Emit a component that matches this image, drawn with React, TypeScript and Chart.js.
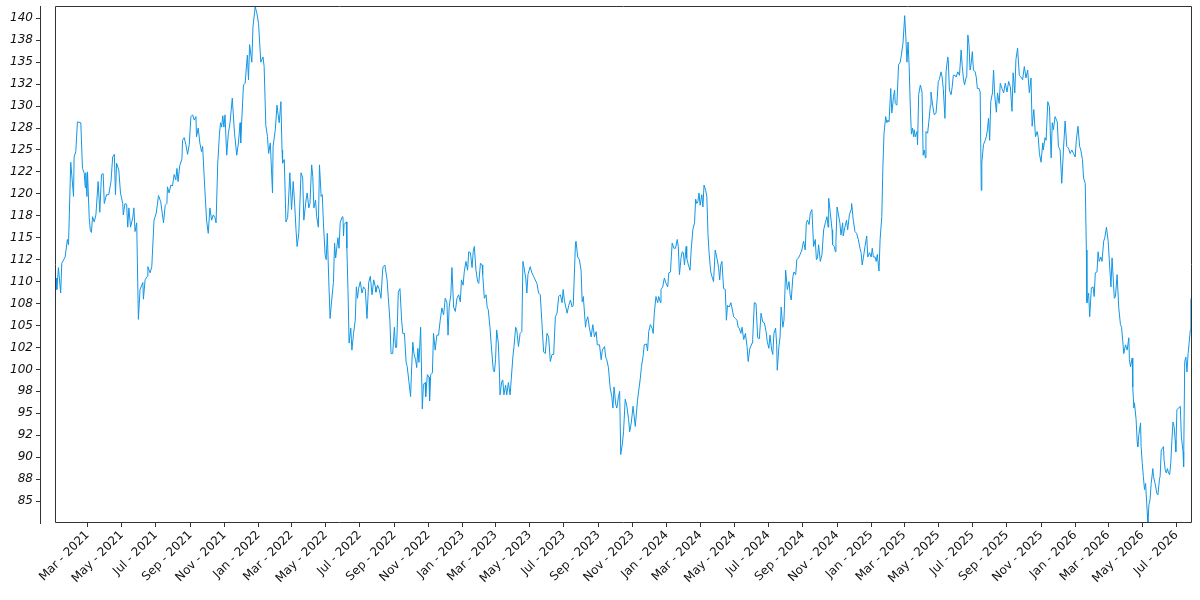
import React, { useEffect, useRef } from "react";
import { Chart, registerables } from "chart.js";

Chart.register(...registerables);

// ---- Data (month-day per year) ----
const D2021 = [
  "01-04","01-05","01-08","01-12","01-14","01-20","01-24","01-26","01-30","02-04",
  "02-05","02-08","02-11","02-17","02-20","02-23","02-25","02-26","02-28","03-01",
  "03-04","03-06","03-08","03-10","03-13","03-16","03-20","03-23","03-26","03-29",
  "03-31","04-04","04-08","04-12","04-15","04-18","04-20","04-22","04-26","04-29",
  "05-03","05-04","05-07","05-10","05-12","05-14","05-17","05-21","05-23","05-25",
  "05-28","05-31","06-03","06-08","06-09","06-12","06-16","06-17","06-21","06-24",
  "06-28","07-02","07-06","07-10","07-15","07-18","07-21","07-22","07-25","07-28",
  "07-31","08-03","08-06","08-08","08-10","08-13","08-17","08-18","08-21","08-24",
  "08-27","08-30","09-02","09-05","09-08","09-11","09-12","09-15","09-18","09-21",
  "09-23","09-26","09-28","09-30","10-03","10-06","10-09","10-12","10-15","10-17",
  "10-20","10-23","10-25","10-27","10-29","10-31","11-02","11-05","11-08","11-11",
  "11-15","11-19","11-23","11-26","11-29","11-30","12-05","12-08","12-12","12-14",
  "12-16","12-20","12-22","12-26","12-29",
];
const V2021 = [
  110.4,109.1,111.6,108.7,112.1,112.8,114.8,114.2,123.6,119.7,
  124.2,124.8,128.2,128.1,122.9,122.4,120.7,122.4,119.7,122.5,
  117.3,115.9,115.6,117.4,116.8,117.6,121.4,117.9,122.2,122.3,
  118.9,119.9,119.9,121.4,124.2,124.5,119.9,123.5,122.7,120.1,
  118.9,117.6,118.9,118.8,116.2,118.4,116.2,117.3,118.4,115.7,
  116.7,105.7,109.1,109.9,108.0,110.2,110.6,111.7,111.0,111.7,
  117.0,117.8,119.8,119.1,116.7,118.7,118.9,120.8,120.1,121.0,
  120.9,122.2,121.6,122.9,121.4,123.2,124.0,126.1,126.4,125.6,
  124.5,125.6,128.8,129.0,128.4,128.8,126.5,127.5,125.8,124.8,
  125.4,121.6,119.3,117.0,115.5,118.4,117.0,117.6,117.3,116.7,
  123.5,126.8,128.1,127.6,128.9,127.6,129.0,124.4,126.9,128.1,
  130.9,126.9,124.4,125.8,128.1,125.8,132.4,132.6,135.8,133.0,
  137.0,135.0,139.0,141.3,140.6,
];

const D2022 = [
  "01-01","01-05","01-09","01-11","01-14","01-17","01-19","01-22","01-26","01-27",
  "01-31","02-03","02-05","02-07","02-10","02-12","02-13","02-16","02-19","02-22",
  "02-23","02-26","03-01","03-04","03-07","03-09","03-11","03-14","03-18","03-21",
  "03-23","03-27","03-29","04-01","04-03","04-06","04-08","04-10","04-13","04-15",
  "04-18","04-20","04-23","04-25","04-27","04-30","05-02","05-04","05-07","05-09",
  "05-13","05-15","05-17","05-19","05-23","05-25","05-27","05-30","06-01","06-02",
  "06-03","06-07","06-08","06-10","06-12","06-15","06-17","06-20","06-23","06-25",
  "06-27","06-29","07-02","07-05","07-08","07-11","07-14","07-17","07-20","07-23",
  "07-26","07-29","07-30","08-02","08-05","08-08","08-11","08-12","08-15","08-19",
  "08-21","08-24","08-26","08-29","09-01","09-03","09-05","09-08","09-11","09-14",
  "09-16","09-19","09-22","09-24","09-27","09-30","10-02","10-04","10-06","10-09",
  "10-11","10-13","10-15","10-18","10-21","10-23","10-26","10-27","10-30","11-02",
  "11-03","11-05","11-08","11-10","11-13","11-16","11-19","11-22","11-25","11-28",
  "12-01","12-04","12-06","12-08","12-11","12-13","12-16","12-19","12-22","12-25",
  "12-28","12-30",
];
const V2022 = [
  139.4,135.0,135.6,134.5,127.8,126.5,124.6,125.8,120.1,125.4,
  127.3,130.1,129.0,128.1,130.5,125.0,123.5,123.9,116.8,117.3,
  118.4,122.4,118.2,121.4,118.4,115.9,114.0,115.5,122.4,121.8,
  117.0,119.3,120.1,118.4,118.9,123.3,122.0,118.4,119.3,117.4,
  116.2,123.3,119.7,119.9,116.8,113.1,112.5,115.5,109.4,105.8,
  108.7,109.9,114.4,112.7,115.0,113.8,116.7,117.3,117.4,115.2,
  116.5,116.8,113.8,109.1,103.0,104.7,102.2,104.1,105.6,109.4,
  108.1,109.2,110.0,108.7,109.4,109.1,105.8,109.9,110.6,108.5,
  110.2,109.4,108.8,109.6,109.1,108.1,111.3,111.7,111.9,110.2,
  108.3,105.6,101.8,101.8,104.8,102.5,102.5,108.8,109.2,105.6,
  104.1,104.1,100.8,100.3,98.6,96.9,100.3,103.1,101.8,101.1,
  100.2,102.4,100.8,104.8,95.5,98.3,98.5,96.9,99.4,99.1,
  96.4,99.4,99.6,104.1,102.2,103.9,103.9,105.6,107.0,106.2,
  108.1,107.6,103.9,107.1,108.5,111.6,107.1,106.6,108.1,108.5,
  107.7,110.2,
];

const D2023 = [
  "01-02","01-04","01-07","01-10","01-12","01-15","01-18","01-20","01-22","01-25",
  "01-28","01-30","02-02","02-05","02-06","02-09","02-12","02-14","02-16","02-19",
  "02-22","02-25","02-27","03-01","03-03","03-06","03-08","03-09","03-12","03-14",
  "03-16","03-19","03-21","03-24","03-27","03-29","04-01","04-03","04-06","04-08",
  "04-11","04-14","04-17","04-19","04-21","04-24","04-26","04-28","05-02","05-05",
  "05-08","05-11","05-14","05-17","05-20","05-23","05-26","05-29","06-01","06-04",
  "06-07","06-10","06-13","06-16","06-19","06-22","06-25","06-28","06-30","07-02",
  "07-05","07-07","07-10","07-13","07-16","07-18","07-22","07-23","07-26","07-29",
  "08-01","08-03","08-05","08-09","08-10","08-13","08-16","08-19","08-22","08-25",
  "08-28","08-30","09-03","09-06","09-08","09-12","09-14","09-16","09-19","09-22",
  "09-25","09-27","09-29","10-02","10-04","10-07","10-09","10-11","10-14","10-16",
  "10-19","10-22","10-25","10-27","10-30","11-02","11-06","11-10","11-13","11-15",
  "11-17","11-20","11-22","11-26","11-28","11-30","12-03","12-06","12-08","12-10",
  "12-13","12-16","12-18","12-21","12-22","12-25","12-28","12-31",
];
const V2023 = [
  109.6,111.1,112.3,111.3,113.4,113.3,111.6,113.4,114.0,111.3,
  110.0,109.8,112.1,111.9,110.8,108.1,108.5,107.1,106.8,104.8,
  102.2,99.9,99.7,101.1,104.5,103.0,99.6,97.1,98.6,98.8,
  97.1,98.2,97.1,98.5,97.1,98.8,101.4,102.6,104.8,104.5,
  102.6,104.1,104.3,112.3,111.6,110.4,108.7,110.8,111.7,111.0,
  110.6,110.2,109.8,108.7,108.5,105.3,102.0,101.8,104.1,103.7,
  100.9,101.7,101.7,106.0,106.4,108.3,108.5,107.6,109.1,107.9,
  107.0,106.4,107.3,107.9,107.1,107.3,114.4,114.6,112.8,112.5,
  111.3,107.7,108.3,104.8,105.4,106.0,104.7,103.7,105.1,103.7,
  104.3,102.8,102.8,101.1,102.2,102.6,101.4,101.1,100.2,97.9,
  96.9,95.6,98.0,96.0,95.6,96.9,97.5,90.3,91.6,92.9,
  96.6,95.8,94.3,92.9,94.0,95.8,93.5,96.5,98.0,99.0,
  100.3,101.5,102.8,102.9,102.1,104.3,105.1,104.7,104.1,106.4,
  108.3,107.6,108.3,107.6,109.1,109.4,110.4,109.8,
];

const D2024 = [
  "01-03","01-05","01-08","01-09","01-11","01-14","01-17","01-20","01-22","01-24",
  "01-27","01-29","01-31","02-02","02-05","02-06","02-09","02-12","02-14","02-17",
  "02-20","02-22","02-24","02-26","02-28","03-01","03-04","03-06","03-08","03-11",
  "03-13","03-15","03-17","03-20","03-23","03-25","03-28","03-31","04-03","04-05",
  "04-07","04-09","04-12","04-15","04-17","04-19","04-22","04-25","04-27","04-30",
  "05-03","05-06","05-08","05-10","05-13","05-15","05-18","05-21","05-24","05-26",
  "05-29","06-02","06-03","06-06","06-09","06-12","06-15","06-18","06-21","06-24",
  "06-27","06-29","07-02","07-04","07-07","07-09","07-11","07-14","07-16","07-17",
  "07-20","07-22","07-24","07-27","07-29","08-01","08-04","08-07","08-09","08-11",
  "08-14","08-16","08-19","08-21","08-24","08-27","08-30","09-02","09-05","09-07",
  "09-09","09-12","09-14","09-17","09-20","09-23","09-25","09-27","09-29","10-02",
  "10-05","10-08","10-11","10-14","10-16","10-17","10-20","10-23","10-24","10-27",
  "10-29","10-30","11-01","11-03","11-06","11-08","11-11","11-12","11-15","11-18",
  "11-20","11-23","11-26","11-27","11-30","12-03","12-06","12-09","12-12","12-14",
  "12-16","12-18","12-21","12-24","12-26","12-29",
];
const V2024 = [
  109.4,111.0,111.1,112.3,114.4,113.8,113.8,114.8,114.0,110.8,
  112.8,113.4,113.3,111.9,114.0,112.7,111.9,111.3,113.6,115.9,
  116.7,119.4,118.9,119.1,120.1,118.7,119.9,118.5,121.0,120.4,
  119.7,115.5,113.3,111.1,110.4,110.0,113.6,112.7,111.6,110.2,
  111.9,112.3,109.2,109.1,105.6,107.3,107.1,107.6,107.0,106.0,
  105.8,105.6,104.8,104.7,104.1,104.8,103.4,104.1,102.6,100.9,
  102.4,103.0,103.4,107.6,107.5,103.6,103.5,106.4,105.4,105.3,
  104.3,103.2,102.4,103.9,102.2,101.7,104.1,104.7,102.8,99.9,
  102.6,103.7,107.1,104.8,105.6,111.3,109.1,110.0,108.5,107.9,
  110.6,111.1,110.8,112.5,112.7,113.1,113.6,114.6,113.6,116.7,
  117.0,116.5,117.8,118.2,114.0,114.8,112.5,112.7,114.2,112.3,
  113.1,115.9,116.7,117.4,116.2,119.5,117.8,115.9,114.2,114.0,
  113.4,114.6,118.5,117.8,116.7,115.3,116.7,115.2,116.2,117.0,
  115.9,117.6,118.2,118.9,117.0,115.7,115.5,114.8,113.8,113.3,
  111.9,112.7,114.0,115.2,112.8,113.3,
];

const D2025 = [
  "01-01","01-03","01-05","01-08","01-10","01-12","01-15","01-17","01-20","01-22",
  "01-24","01-27","01-29","01-31","02-02","02-05","02-07","02-10","02-12","02-13",
  "02-16","02-19","02-22","02-24","02-27","03-02","03-04","03-06","03-08","03-10",
  "03-12","03-14","03-16","03-18","03-19","03-21","03-24","03-25","03-27","03-30",
  "04-02","04-04","04-06","04-08","04-09","04-12","04-14","04-17","04-18","04-21",
  "04-23","04-24","04-27","04-29","05-01","05-03","05-06","05-08","05-10","05-13",
  "05-15","05-18","05-19","05-21","05-24","05-26","05-28","05-31","06-02","06-05",
  "06-08","06-11","06-13","06-15","06-17","06-20","06-21","06-23","06-25","06-27",
  "06-29","07-01","07-03","07-06","07-08","07-10","07-13","07-15","07-17","07-18",
  "07-21","07-24","07-26","07-28","07-30","08-01","08-03","08-06","08-08","08-10",
  "08-13","08-15","08-18","08-20","08-23","08-26","08-29","09-01","09-04","09-07",
  "09-10","09-12","09-15","09-17","09-20","09-23","09-26","09-29","10-02","10-05",
  "10-08","10-11","10-14","10-16","10-19","10-22","10-25","10-27","10-29","11-01",
  "11-04","11-05","11-08","11-10","11-13","11-16","11-19","11-21","11-23","11-26",
  "11-30","12-02","12-05","12-08","12-11","12-14","12-17","12-20","12-23","12-26",
  "12-29",
];
const V2025 = [
  112.8,113.8,112.8,112.8,112.3,113.1,111.2,114.8,117.4,123.1,
  126.9,128.8,128.1,128.4,128.2,132.0,129.2,131.1,131.8,130.3,
  130.1,134.7,135.0,135.8,137.2,140.3,137.9,135.0,137.3,134.5,
  130.0,126.8,127.5,126.5,127.3,126.5,127.1,125.6,131.3,132.4,
  131.6,124.4,125.0,124.1,127.1,126.9,128.1,130.1,131.6,130.1,
  129.3,129.0,129.2,130.7,132.8,133.0,133.9,133.3,132.0,128.6,
  133.9,135.6,135.2,131.8,131.3,132.2,133.5,133.5,133.3,133.9,
  133.5,136.4,134.5,133.2,132.4,133.3,133.5,138.1,137.0,134.1,
  134.9,136.2,134.1,133.9,133.3,132.0,132.0,131.6,120.4,123.6,
  125.6,126.1,126.5,127.3,128.6,126.1,130.5,131.5,134.1,131.3,
  129.3,131.5,130.3,132.6,132.0,131.5,132.6,131.6,132.8,132.2,
  129.4,133.8,131.5,135.3,136.6,133.5,133.3,133.0,134.5,133.2,
  134.1,131.5,133.2,127.7,129.6,126.5,127.1,126.4,124.6,123.6,
  125.8,125.0,126.4,126.1,130.5,129.9,124.1,128.1,127.3,128.8,
  128.2,125.4,125.0,121.2,125.0,128.3,125.4,125.2,124.6,125.0,
  124.6,
];

const D2026 = [
  "01-01","01-03","01-06","01-09","01-11","01-14","01-16","01-19","01-21","01-22",
  "01-25","01-27","01-30","02-02","02-04","02-06","02-09","02-11","02-13","02-16",
  "02-18","02-21","02-23","02-26","03-01","03-03","03-06","03-08","03-10","03-12",
  "03-14","03-17","03-20","03-23","03-25","03-29","04-01","04-04","04-07","04-08",
  "04-10","04-13","04-14","04-16","04-17","04-20","04-22","04-23","04-25","04-28",
  "04-29","05-01","05-03","05-05","05-07","05-10","05-11","05-13","05-15","05-17",
  "05-20","05-21","05-24","05-27","05-29","06-01","06-02","06-04","06-06","06-08",
  "06-09","06-11","06-13","06-15","06-17","06-19","06-21","06-23","06-25","06-27",
  "06-29","06-30","07-02","07-05","07-08","07-10","07-13","07-14","07-16","07-18",
  "07-20","07-22","07-24","07-26","07-27","07-29",
];
const V2026 = [
  124.2,126.1,127.7,125.4,125.0,123.9,121.8,121.2,113.6,107.6,
  108.7,106.0,109.3,109.4,108.3,111.0,111.1,113.4,112.3,112.8,
  112.3,114.6,115.0,116.2,114.6,112.5,109.4,112.7,110.4,108.1,
  108.3,110.8,107.0,105.1,104.8,101.8,102.8,102.2,103.6,101.1,
  100.3,101.3,98.0,95.6,96.2,94.3,91.7,91.2,92.6,93.9,
  91.2,89.3,87.8,86.3,87.0,83.6,82.6,84.6,85.2,87.0,
  88.7,87.8,87.0,85.9,85.7,87.6,87.8,90.8,91.0,91.2,
  89.7,88.6,88.2,88.7,88.2,88.0,89.3,91.9,94.0,93.5,
  91.9,90.6,95.4,95.6,95.8,92.3,90.6,88.9,100.9,101.4,
  99.7,101.8,103.1,104.5,107.9,108.5,
];

const YEARS = [2021, 2022, 2023, 2024, 2025, 2026];
const DATES_BY_YEAR = [D2021, D2022, D2023, D2024, D2025, D2026];
const VALUES_BY_YEAR = [V2021, V2022, V2023, V2024, V2025, V2026];

// ---- Axis ticks ----
const X_TICK_DATES = [
  "2021-03-01","2021-05-01","2021-07-01","2021-09-01","2021-11-01",
  "2022-01-01","2022-03-01","2022-05-01","2022-07-01","2022-09-01","2022-11-01",
  "2023-01-01","2023-03-01","2023-05-01","2023-07-01","2023-09-01","2023-11-01",
  "2024-01-01","2024-03-01","2024-05-01","2024-07-01","2024-09-01","2024-11-01",
  "2025-01-01","2025-03-01","2025-05-01","2025-07-01","2025-09-01","2025-11-01",
  "2026-01-01","2026-03-01","2026-05-01","2026-07-01",
];
const X_TICK_LABELS = [
  "Mar - 2021","May - 2021","Jul - 2021","Sep - 2021","Nov - 2021",
  "Jan - 2022","Mar - 2022","May - 2022","Jul - 2022","Sep - 2022","Nov - 2022",
  "Jan - 2023","Mar - 2023","May - 2023","Jul - 2023","Sep - 2023","Nov - 2023",
  "Jan - 2024","Mar - 2024","May - 2024","Jul - 2024","Sep - 2024","Nov - 2024",
  "Jan - 2025","Mar - 2025","May - 2025","Jul - 2025","Sep - 2025","Nov - 2025",
  "Jan - 2026","Mar - 2026","May - 2026","Jul - 2026",
];
const Y_TICKS = [85, 87.5, 90, 92.5, 95, 97.5, 100, 102.5, 105, 107.5, 110, 112.5, 115, 117.5, 120, 122.5, 125, 127.5, 130, 132.5, 135, 137.5, 140];
const Y_TICK_LABELS = ["85","88","90","92","95","98","100","102","105","108","110","112","115","118","120","122","125","128","130","132","135","138","140"];

const X_RANGE_START = "2020-12-06";
const Y_MIN = 82.5;
const Y_MAX = 141.4;

const LINE_COLOR = "#1296e4";
const AXIS_COLOR = "#333333";
const TEXT_COLOR = "#111111";
const FONT = "'DejaVu Sans', 'Liberation Sans', sans-serif";
const FRAME_GAP = 15;

const EPOCH = Date.UTC(2021, 0, 1);
function dayIndex(iso: string): number {
  const [y, m, d] = iso.split("-").map(Number);
  return (Date.UTC(y, m - 1, d) - EPOCH) / 86400000;
}

export default function App() {
  const ref = useRef<HTMLCanvasElement | null>(null);

  useEffect(() => {
    document.body.style.margin = "0";
    const canvas = ref.current;
    if (!canvas) return;

    const points: { x: number; y: number }[] = [];
    YEARS.forEach((year, yi) => {
      const ds = DATES_BY_YEAR[yi];
      const vs = VALUES_BY_YEAR[yi];
      const n = Math.min(ds.length, vs.length);
      for (let i = 0; i < n; i++) {
        points.push({ x: dayIndex(`${year}-${ds[i]}`), y: vs[i] });
      }
    });
    const xTickDays = X_TICK_DATES.map(dayIndex);

    const framePlugin = {
      id: "frameBox",
      afterDatasetsDraw(chart: any) {
        const { ctx, chartArea: a } = chart;
        const l = Math.round(a.left + FRAME_GAP) + 0.5;
        const t = Math.round(a.top) + 0.5;
        const r = Math.round(a.right) - 0.5;
        const b = Math.round(a.bottom) - 0.5;
        ctx.save();
        ctx.strokeStyle = AXIS_COLOR;
        ctx.lineWidth = 1;
        ctx.beginPath();
        ctx.rect(l, t, r - l, b - t);
        ctx.stroke();
        ctx.restore();
      },
    };

    const chart = new Chart(canvas, {
      type: "line",
      data: {
        datasets: [
          {
            data: points,
            borderColor: LINE_COLOR,
            borderWidth: 1,
            pointRadius: 0,
            pointHoverRadius: 0,
            tension: 0,
            fill: false,
          },
        ],
      },
      options: {
        animation: false,
        responsive: false,
        devicePixelRatio: 1,
        layout: { padding: { top: 6, right: 8, left: 0, bottom: 0 } },
        plugins: {
          legend: { display: false },
          tooltip: { enabled: false },
        },
        scales: {
          x: {
            type: "linear",
            position: "bottom",
            min: dayIndex(X_RANGE_START),
            max: points[points.length - 1].x,
            afterBuildTicks: (axis: any) => {
              axis.ticks = xTickDays.map((v) => ({ value: v }));
            },
            afterFit: (axis: any) => {
              axis.height = 77;
              axis.paddingLeft = 0;
              axis.paddingRight = 0;
            },
            ticks: {
              autoSkip: false,
              maxRotation: 45,
              minRotation: 45,
              padding: 1,
              color: TEXT_COLOR,
              font: { family: FONT, size: 12 },
              callback: (_v: any, i: number) => X_TICK_LABELS[i],
            },
            grid: {
              display: true,
              drawOnChartArea: false,
              drawTicks: true,
              tickLength: 4,
              color: AXIS_COLOR,
            },
            border: { display: false },
          },
          y: {
            type: "linear",
            position: "left",
            min: Y_MIN,
            max: Y_MAX,
            afterBuildTicks: (axis: any) => {
              axis.ticks = Y_TICKS.map((v) => ({ value: v }));
            },
            afterFit: (axis: any) => {
              axis.width = 40;
              axis.paddingTop = 0;
              axis.paddingBottom = 0;
            },
            ticks: {
              padding: 3,
              color: TEXT_COLOR,
              font: { family: FONT, size: 12, style: "italic" },
              callback: (_v: any, i: number) => Y_TICK_LABELS[i],
            },
            grid: {
              display: true,
              drawOnChartArea: false,
              drawTicks: true,
              tickLength: 4,
              color: AXIS_COLOR,
            },
            border: { display: true, color: AXIS_COLOR, width: 1 },
          },
        },
      } as any,
      plugins: [framePlugin],
    });

    return () => chart.destroy();
  }, []);

  return (
    <div style={{ width: 1200, height: 600 }}>
      <canvas ref={ref} width={1200} height={600} style={{ display: "block", width: 1200, height: 600 }} />
    </div>
  );
}
